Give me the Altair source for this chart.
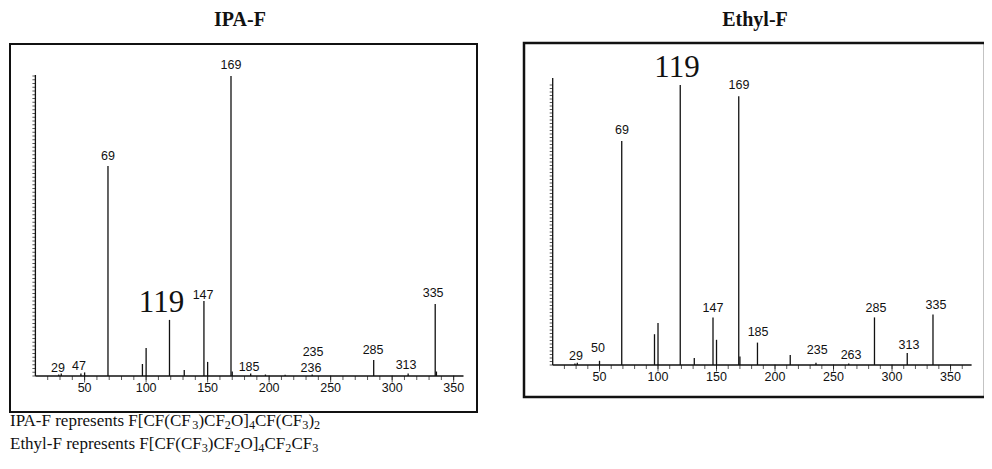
import altair as alt
import pandas as pd

W, H = 976, 453

# ---------------- IPA-F spectrum ----------------
ipa_mz = [29, 31, 47, 50, 69, 97, 100, 119, 131, 147, 150, 169, 170, 185, 197, 213, 235, 285, 313, 335, 336]
ipa_int = [0.5, 0.8, 0.8, 1.2, 70, 4, 9.3, 18.7, 2, 25, 4.7, 100, 1.5, 0.8, 0.5, 0.4, 0.5, 5.3, 0.8, 24, 1.5]
ipa_lab_text = ["69", "169", "147", "335", "29", "47", "185", "235", "236", "285", "313"]
ipa_lab_x = [69, 169, 146.3, 333.3, 28.4, 45.4, 183.7, 235.7, 234, 284.5, 311.3]
ipa_lab_y = [73.3, 103.7, 27, 27.7, 2.7, 3.3, 3, 8, 2.7, 8.7, 3.7]
ipa_big_text = ["119"]
ipa_big_x = [112.5]
ipa_big_y = [24.3]

# ---------------- Ethyl-F spectrum ----------------
eth_mz = [29, 31, 50, 69, 97, 100, 119, 131, 147, 150, 169, 170, 185, 213, 235, 263, 285, 313, 335]
eth_int = [0.5, 0.8, 1.5, 80, 11, 15, 100, 2.5, 17, 9, 96, 3, 8, 3.6, 0.8, 0.5, 17, 4.3, 18]
eth_lab_text = ["169", "69", "147", "185", "29", "50", "235", "263", "285", "313", "335"]
eth_lab_x = [169.2, 69.2, 147, 185.5, 29.9, 48.7, 236, 265, 286.3, 314.5, 337.6]
eth_lab_y = [100, 84, 20.4, 11.8, 3.2, 6.1, 5.4, 3.6, 20.4, 7.1, 21.4]
eth_big_text = ["119"]
eth_big_x = [116.2]
eth_big_y = [106]

x_tick_labels = [50, 100, 150, 200, 250, 300, 350]
ipa_minor = list(range(20, 360, 10))
eth_minor = list(range(20, 370, 10))
y_minor = [i * 1.25 for i in range(0, 81)]

# captions: pieces of (text, is_subscript)
caption1 = [("IPA-F represents F[CF(CF", 0), ("3", 1), (")CF", 0), ("2", 1), ("O]", 0), ("4", 1),
            ("CF(CF", 0), ("3", 1), (")", 0), ("2", 1)]
caption2 = [("Ethyl-F represents F[CF(CF", 0), ("3", 1), (")CF", 0), ("2", 1), ("O]", 0), ("4", 1),
            ("CF", 0), ("2", 1), ("CF", 0), ("3", 1)]

SANS = "Liberation Sans Narrow, Liberation Sans, Arial, sans-serif"
SERIF = "Liberation Serif, Times New Roman, serif"
INK = "#111111"

# Times / Liberation Serif advance widths (1/1000 em), used to lay out subscript pieces
TIMES_W = {
    "I": 333, "P": 556, "A": 722, "-": 333, "F": 556, " ": 250, "r": 333, "e": 444, "p": 500,
    "s": 389, "n": 500, "t": 278, "[": 333, "C": 667, "(": 333, ")": 333, "O": 722, "]": 333,
    "E": 611, "h": 500, "y": 500, "l": 278, "0": 500, "1": 500, "2": 500, "3": 500, "4": 500,
}


def caption_rows(pieces, x0, ymid, size, sub_scale, sub_dy):
    rows = []
    x = x0
    for text, sub in pieces:
        s = size * sub_scale if sub else size
        rows.append({"x": x, "y": ymid + (sub_dy if sub else 0), "t": text, "sub": sub})
        x += sum(TIMES_W.get(c, 500) for c in text) * s / 1000.0
    return rows


def panel(mz, inten, lab_t, lab_x, lab_y, big_t, big_x, big_y, minor, xdom, xrange, yrange, ytop, big_size):
    sx = alt.Scale(domain=xdom, range=xrange, nice=False, zero=False)
    sy = alt.Scale(domain=[0, 100], range=yrange, nice=False, zero=False)
    peaks = pd.DataFrame({"mz": mz, "i": inten})
    labs = pd.DataFrame({"x": lab_x, "y": lab_y, "t": lab_t})
    big = pd.DataFrame({"x": big_x, "y": big_y, "t": big_t})
    mn = pd.DataFrame({"x": minor})
    mj = pd.DataFrame({"x": x_tick_labels, "t": [str(v) for v in x_tick_labels]})
    yt = pd.DataFrame({"y": [v for v in y_minor if v <= ytop]})
    axl = pd.DataFrame({"x0": [xdom[0]], "x1": [xdom[1]], "y0": [0], "y1": [ytop]})

    X = lambda f: alt.X(f, scale=sx, axis=None)
    Y = lambda f: alt.Y(f, scale=sy, axis=None)

    rules = alt.Chart(peaks).mark_rule(color=INK, strokeWidth=1.3).encode(
        x=X("mz:Q"), y=Y("i:Q"), y2=alt.Y2Datum(0)
    )
    labels = alt.Chart(labs).mark_text(font=SANS, fontSize=12.5, color=INK, baseline="middle").encode(
        x=X("x:Q"), y=Y("y:Q"), text="t:N"
    )
    bigl = alt.Chart(big).mark_text(font=SERIF, fontSize=big_size, color=INK, baseline="middle").encode(
        x=X("x:Q"), y=Y("y:Q"), text="t:N"
    )
    xline = alt.Chart(axl).mark_rule(color=INK, strokeWidth=1.3).encode(
        x=X("x0:Q"), x2="x1:Q", y=Y("y0:Q")
    )
    yline = alt.Chart(axl).mark_rule(color=INK, strokeWidth=1.3).encode(
        x=X("x0:Q"), y=Y("y0:Q"), y2="y1:Q"
    )
    minor_t = alt.Chart(mn).mark_tick(orient="vertical", color=INK, size=4, thickness=1, yOffset=2).encode(
        x=X("x:Q"), y=alt.YDatum(0, scale=sy, axis=None)
    )
    major_t = alt.Chart(mj).mark_tick(orient="vertical", color=INK, size=7, thickness=1, yOffset=3).encode(
        x=X("x:Q"), y=alt.YDatum(0, scale=sy, axis=None)
    )
    major_l = alt.Chart(mj).mark_text(font=SANS, fontSize=12.5, color=INK, baseline="middle", dy=12).encode(
        x=X("x:Q"), y=alt.YDatum(0, scale=sy, axis=None), text="t:N"
    )
    y_t = alt.Chart(yt).mark_tick(orient="horizontal", color=INK, size=3, thickness=1, xOffset=-1.5).encode(
        x=alt.XDatum(xdom[0], scale=sx, axis=None), y=Y("y:Q")
    )
    return alt.layer(rules, labels, bigl, xline, yline, minor_t, major_t, major_l, y_t)


left = panel(ipa_mz, ipa_int, ipa_lab_text, ipa_lab_x, ipa_lab_y, ipa_big_text, ipa_big_x, ipa_big_y,
             ipa_minor, [10, 358], [27.4, 455.5], [368, 68], 100.3, 31)
right = panel(eth_mz, eth_int, eth_lab_text, eth_lab_x, eth_lab_y, eth_big_text, eth_big_x, eth_big_y,
              eth_minor, [10, 368], [544.7, 963.6], [357, 77], 102.5, 31)

one = alt.Data(values=[{"a": 1}])

box_l = alt.Chart(one).mark_rect(fill=None, stroke=INK, strokeWidth=2).encode(
    x=alt.value(2), x2=alt.value(469), y=alt.value(36), y2=alt.value(404)
)
box_r = alt.Chart(one).mark_rect(fill=None, stroke=INK, strokeWidth=2.5).encode(
    x=alt.value(516), x2=alt.value(977), y=alt.value(35), y2=alt.value(389)
)
title_l = alt.Chart(one).mark_text(font=SERIF, fontSize=20, fontWeight="bold", color=INK, baseline="alphabetic").encode(
    x=alt.value(232), y=alt.value(18), text=alt.value("IPA-F")
)
title_r = alt.Chart(one).mark_text(font=SERIF, fontSize=20, fontWeight="bold", color=INK, baseline="alphabetic").encode(
    x=alt.value(747), y=alt.value(18), text=alt.value("Ethyl-F")
)

CAP_SIZE = 17
cap_rows = caption_rows(caption1, 2, 413, CAP_SIZE, 0.72, 4) + caption_rows(caption2, 2, 436, CAP_SIZE, 0.72, 4)
cap_df = pd.DataFrame(cap_rows)
cap_main = alt.Chart(cap_df[cap_df["sub"] == 0]).mark_text(
    font=SERIF, fontSize=CAP_SIZE, color=INK, align="left", baseline="middle"
).encode(x=alt.X("x:Q", scale=None, axis=None), y=alt.Y("y:Q", scale=None, axis=None), text="t:N")
cap_sub = alt.Chart(cap_df[cap_df["sub"] == 1]).mark_text(
    font=SERIF, fontSize=CAP_SIZE * 0.72, color=INK, align="left", baseline="middle"
).encode(x=alt.X("x:Q", scale=None, axis=None), y=alt.Y("y:Q", scale=None, axis=None), text="t:N")

chart = alt.layer(left, right, box_l, box_r, title_l, title_r, cap_main, cap_sub).resolve_scale(
    x="independent", y="independent"
).properties(
    width=W, height=H, padding=0, autosize=alt.AutoSizeParams(type="none")
).configure_view(stroke=None)

chart.save("out.html", embed_options={"renderer": "svg", "actions": False})
